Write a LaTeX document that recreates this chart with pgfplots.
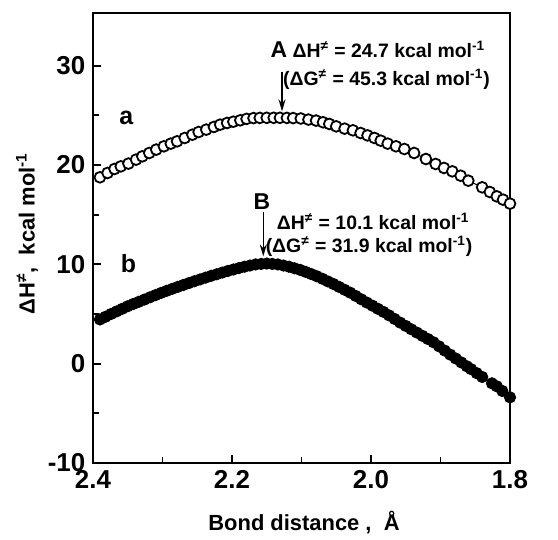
\documentclass[border=0pt]{standalone}
\usepackage{fontspec}
\setmainfont{Liberation Sans}
\usepackage{pgfplots}
\pgfplotsset{compat=1.18}
\usetikzlibrary{arrows.meta}

% curve a: open circles
\pgfplotstableread{
x y
2.390 18.76
2.379 19.20
2.369 19.60
2.360 19.86
2.349 20.14
2.338 20.54
2.329 20.87
2.319 21.21
2.309 21.55
2.298 21.88
2.288 22.15
2.279 22.38
2.268 22.72
2.257 23.05
2.248 23.32
2.237 23.56
2.226 23.83
2.217 24.06
2.207 24.23
2.198 24.36
2.188 24.50
2.179 24.64
2.169 24.72
2.160 24.74
2.150 24.75
2.140 24.75
2.131 24.75
2.121 24.74
2.112 24.72
2.101 24.68
2.090 24.57
2.079 24.47
2.069 24.30
2.060 24.13
2.050 23.89
2.038 23.66
2.026 23.49
2.015 23.22
2.005 22.98
1.995 22.72
1.986 22.45
1.976 22.15
1.964 21.88
1.952 21.61
1.938 21.21
1.921 20.60
1.907 20.10
1.895 19.70
1.883 19.36
1.871 18.92
1.860 18.42
1.840 17.75
1.829 17.28
1.819 16.84
1.810 16.51
1.800 16.11
}\curveA

% curve b: filled circles
\pgfplotstableread{
x y
2.390 4.45
2.382 4.72
2.374 5.00
2.366 5.26
2.358 5.52
2.350 5.78
2.342 6.01
2.334 6.23
2.326 6.45
2.318 6.68
2.310 6.90
2.302 7.12
2.294 7.33
2.286 7.53
2.278 7.73
2.270 7.92
2.262 8.11
2.254 8.30
2.246 8.48
2.238 8.66
2.230 8.84
2.222 9.00
2.214 9.17
2.206 9.33
2.198 9.48
2.190 9.62
2.182 9.76
2.174 9.88
2.166 9.99
2.158 10.04
2.150 10.08
2.142 10.04
2.134 9.99
2.126 9.88
2.118 9.76
2.110 9.60
2.102 9.44
2.094 9.24
2.086 9.02
2.078 8.80
2.070 8.55
2.062 8.28
2.054 8.02
2.046 7.73
2.038 7.44
2.030 7.15
2.022 6.82
2.014 6.48
2.006 6.15
1.998 5.84
1.990 5.52
1.982 5.21
1.974 4.86
1.966 4.50
1.958 4.13
1.950 3.80
1.942 3.46
1.934 3.13
1.926 2.80
1.918 2.48
1.910 2.15
1.902 1.74
1.894 1.32
1.886 0.91
1.878 0.52
1.870 0.12
1.862 -0.27
1.856 -0.55
1.848 -0.95
1.840 -1.34
1.826 -1.98
1.819 -2.28
1.811 -2.75
1.800 -3.39
}\curveB

\begin{document}
\bfseries\fontsize{11}{13}\selectfont
\begin{tikzpicture}
\begin{axis}[
  scale only axis,
  width=208.5bp, height=225bp,
  x dir=reverse,
  xmin=1.8, xmax=2.4,
  ymin=-10, ymax=35.3,
  xtick={1.8,2.0,2.2,2.4},
  minor xtick={1.9,2.1,2.3},
  ytick={-10,0,10,20,30},
  minor ytick={-5,5,15,25},
  tick pos=left,
  tick align=inside,
  major tick length=4bp,
  minor tick length=3bp,
  every tick/.style={black, line width=0.9bp},
  axis line style={line width=1.3bp},
  /pgf/number format/assume math mode=true,
  xticklabel style={/pgf/number format/fixed, /pgf/number format/fixed zerofill, /pgf/number format/precision=1},
  ticklabel style={font=\bfseries\fontsize{13}{15}\selectfont},
  xlabel={Bond distance ,\ \ Å},
  ylabel={ΔH\textsuperscript{≠},\ \ kcal mol\textsuperscript{-1}},
  xlabel style={at={(axis description cs:0.506,-0.133)}, anchor=center},
  ylabel style={at={(axis description cs:-0.158,0.51)}, anchor=center},
  clip=false,
]
\addplot[black, line width=0.5bp, mark=*, mark size=2.7bp,
  mark options={fill=white, draw=black, line width=0.9bp}] table[x=x,y=y] {\curveA};
\addplot[black, line width=0.5bp, mark=*, mark size=2.8bp,
  mark options={fill=black, draw=black}] table[x=x,y=y] {\curveB};

\node[font=\bfseries\fontsize{12.5}{14}\selectfont] at (axis cs:2.352,24.7) {a};
\node[font=\bfseries\fontsize{12.5}{14}\selectfont] at (axis cs:2.349,10.1) {b};

\begin{scope}[font=\bfseries\fontsize{9.75}{11}\selectfont]
\node[anchor=west, inner sep=0pt] at (axis cs:2.145,31.6)
  {{\fontsize{11.5}{13}\selectfont A} ΔH\textsuperscript{≠} = 24.7 kcal mol\textsuperscript{-1}};
\node[anchor=west, inner sep=0pt] at (axis cs:2.127,28.6)
  {(ΔG\textsuperscript{≠} = 45.3 kcal mol\textsuperscript{-1})};
\node[inner sep=0pt, font=\bfseries\fontsize{11.5}{13}\selectfont] at (axis cs:2.157,16.3) {B};
\node[anchor=west, inner sep=0pt] at (axis cs:2.136,14.3)
  {ΔH\textsuperscript{≠} = 10.1 kcal mol\textsuperscript{-1}};
\node[anchor=west, inner sep=0pt] at (axis cs:2.152,11.8)
  {(ΔG\textsuperscript{≠} = 31.9 kcal mol\textsuperscript{-1})};
\end{scope}
\draw[line width=0.7bp, -{Stealth[length=6bp,width=3.5bp]}] (axis cs:2.128,29.4) -- (axis cs:2.128,25.4);
\draw[line width=0.7bp, -{Stealth[length=6bp,width=3.5bp]}] (axis cs:2.155,15.3) -- (axis cs:2.155,10.8);
\end{axis}
\pgfresetboundingbox
\path[use as bounding box] ([xshift=-46.5bp,yshift=-38.5bp]current axis.south west)
  rectangle ([xshift=24bp,yshift=6.5bp]current axis.north east);
\end{tikzpicture}
\end{document}
